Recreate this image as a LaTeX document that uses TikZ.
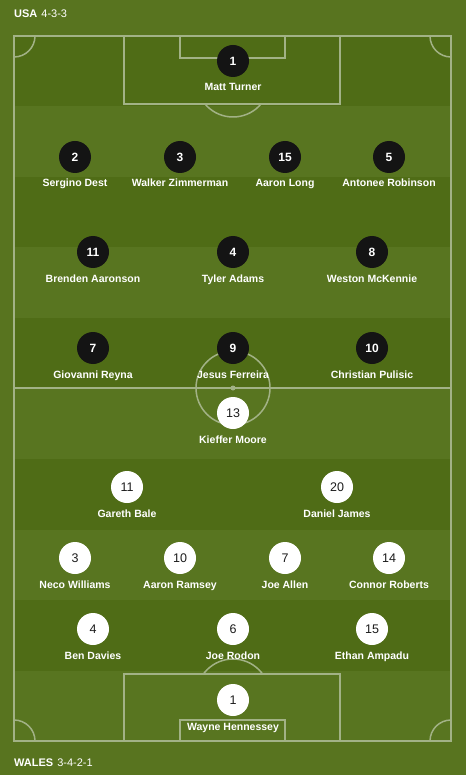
\documentclass[tikz,border=0pt]{standalone}
\usepackage{fontspec}
\setmainfont{Liberation Sans}
\definecolor{bgcol}{HTML}{58741F}
\definecolor{stripelight}{HTML}{587520}
\definecolor{stripedark}{HTML}{4F6C16}
\definecolor{pitchline}{HTML}{A2B286}
\definecolor{usablack}{HTML}{141414}
\definecolor{numdark}{HTML}{1C1C1C}
\begin{document}
\begin{tikzpicture}[x=1pt,y=-1pt,
	usa/.style={circle, fill=usablack, text=white, font=\bfseries\fontsize{12}{12}\selectfont, minimum size=32pt, inner sep=0pt},
	wal/.style={circle, fill=white, text=numdark, font=\fontsize{12.5}{12.5}\selectfont, minimum size=32pt, inner sep=0pt},
	pname/.style={anchor=base, text=white, font=\bfseries\fontsize{10.5}{10.5}\selectfont, inner sep=0pt},
	team/.style={anchor=base west, text=white, font=\fontsize{11}{11}\selectfont, inner sep=0pt},
	pline/.style={draw=pitchline, line width=1.5pt}]
	% Grass
	\fill[bgcol] (0,0) rectangle (466,775);
	\fill[stripelight] (14,36) rectangle (451,741);
	\fill[stripedark] (14,36) rectangle (451,106.5);
	\fill[stripedark] (14,177) rectangle (451,247.5);
	\fill[stripedark] (14,318) rectangle (451,388.5);
	\fill[stripedark] (14,459) rectangle (451,529.5);
	\fill[stripedark] (14,600) rectangle (451,670.5);
	% Pitch markings
	\draw[pline] (14,36) rectangle (451,741);
	\draw[pline] (14,388) -- (451,388);
	\draw[pline] (233,388) circle (37);
	\fill[pitchline] (233,388) circle (2.5);
	\draw[pline] (124,36) rectangle (340,104);
	\draw[pline] (180,36) rectangle (285,58);
	\draw[pline] (124,674) rectangle (340,741);
	\draw[pline] (180,720) rectangle (285,741);
	\begin{scope}
		\clip (14,104) rectangle (451,140);
		\draw[pline] (233,80.3) circle (36.7);
	\end{scope}
	\begin{scope}
		\clip (14,630) rectangle (451,674);
		\draw[pline] (233,695.7) circle (36.7);
	\end{scope}
	\begin{scope}
		\clip (14,36) rectangle (451,741);
		\draw[pline] (14,36) circle (21);
		\draw[pline] (451,36) circle (21);
		\draw[pline] (14,741) circle (21);
		\draw[pline] (451,741) circle (21);
	\end{scope}
	% Team headers
	\node[team] (usahead) at (14,17.5) {\textbf{USA}\hspace{4pt}4-3-3};
	\node[team] (walhead) at (14,766.5) {\textbf{WALES}\hspace{4pt}3-4-2-1};
	% USA
	\node[usa] (turner) at (233,61) {1};
	\node[pname] (turnerN) at (233,91) {Matt Turner};
	\node[usa] (dest) at (75,157) {2};
	\node[pname] (destN) at (75,187) {Sergino Dest};
	\node[usa] (zimmerman) at (180,157) {3};
	\node[pname] (zimmermanN) at (180,187) {Walker Zimmerman};
	\node[usa] (long) at (285,157) {15};
	\node[pname] (longN) at (285,187) {Aaron Long};
	\node[usa] (robinson) at (389,157) {5};
	\node[pname] (robinsonN) at (389,187) {Antonee Robinson};
	\node[usa] (aaronson) at (93,252) {11};
	\node[pname] (aaronsonN) at (93,282) {Brenden Aaronson};
	\node[usa] (adams) at (233,252) {4};
	\node[pname] (adamsN) at (233,282) {Tyler Adams};
	\node[usa] (mckennie) at (372,252) {8};
	\node[pname] (mckennieN) at (372,282) {Weston McKennie};
	\node[usa] (reyna) at (93,348) {7};
	\node[pname] (reynaN) at (93,378) {Giovanni Reyna};
	\node[usa] (ferreira) at (233,348) {9};
	\node[pname] (ferreiraN) at (233,378) {Jesus Ferreira};
	\node[usa] (pulisic) at (372,348) {10};
	\node[pname] (pulisicN) at (372,378) {Christian Pulisic};
	% Wales
	\node[wal] (moore) at (233,413) {13};
	\node[pname] (mooreN) at (233,443) {Kieffer Moore};
	\node[wal] (bale) at (127,487) {11};
	\node[pname] (baleN) at (127,517) {Gareth Bale};
	\node[wal] (james) at (337,487) {20};
	\node[pname] (jamesN) at (337,517) {Daniel James};
	\node[wal] (williams) at (75,558) {3};
	\node[pname] (williamsN) at (75,588) {Neco Williams};
	\node[wal] (ramsey) at (180,558) {10};
	\node[pname] (ramseyN) at (180,588) {Aaron Ramsey};
	\node[wal] (allen) at (285,558) {7};
	\node[pname] (allenN) at (285,588) {Joe Allen};
	\node[wal] (roberts) at (389,558) {14};
	\node[pname] (robertsN) at (389,588) {Connor Roberts};
	\node[wal] (davies) at (93,629) {4};
	\node[pname] (daviesN) at (93,659) {Ben Davies};
	\node[wal] (rodon) at (233,629) {6};
	\node[pname] (rodonN) at (233,659) {Joe Rodon};
	\node[wal] (ampadu) at (372,629) {15};
	\node[pname] (ampaduN) at (372,659) {Ethan Ampadu};
	\node[wal] (hennessey) at (233,700) {1};
	\node[pname] (hennesseyN) at (233,730) {Wayne Hennessey};
\end{tikzpicture}
\end{document}
